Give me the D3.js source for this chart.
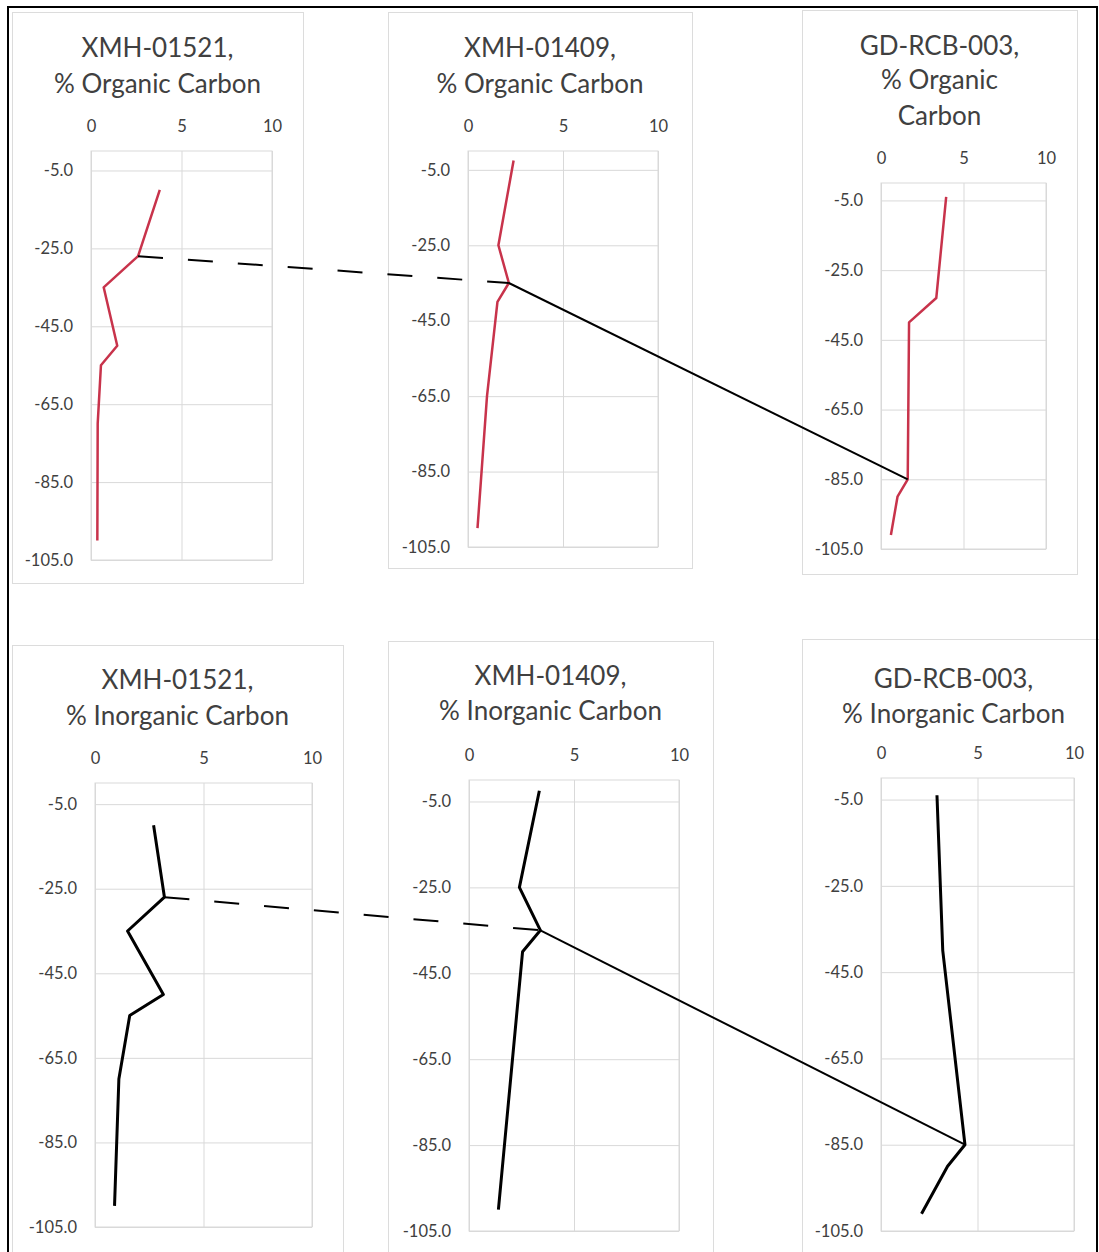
<!DOCTYPE html>
<html>
<head>
<meta charset="utf-8">
<script src="https://cdn.jsdelivr.net/npm/d3@7"></script>
<style>
  body { margin: 0; background: #fff; }
  text { font-family: Lato, "Open Sans", sans-serif; fill: #404040; }
</style>
</head>
<body>
<script>
const depth01521 = [-10, -27, -35, -50, -55, -70, -100];
const orgC01521 = [3.8, 2.6, 0.7, 1.45, 0.55, 0.37, 0.35];
const inorgC01521 = [2.7, 3.2, 1.5, 3.15, 1.6, 1.1, 0.9];

const depth01409 = [-2.5, -25, -35, -40, -65, -100];
const orgC01409 = [2.4, 1.6, 2.15, 1.55, 1.0, 0.5];
const depth01409i = [-2.5, -25, -35, -40, -100];
const inorgC01409 = [3.35, 2.4, 3.4, 2.55, 1.4];

const depthRCBo = [-4, -33, -40, -85, -90, -101];
const orgCRCB = [3.95, 3.35, 1.7, 1.62, 1.0, 0.6];
const depthRCBi = [-4, -40, -85, -90, -101];
const inorgCRCB = [2.9, 3.2, 4.35, 3.45, 2.1];

const xTicks = [0, 5, 10];
const yTicks = [-5, -25, -45, -65, -85, -105];
const xDomain = [0, 10];
const yDomain = [-105, 0];

const red = "#c8334b";

// plain hyphen for negatives, like the original
const locale = d3.formatLocale({ decimal: ".", thousands: ",", grouping: [3], currency: ["$", ""], minus: "-" });

// panel layout: outer frame, plot area, title lines and their centres
const panels = [
  { title: ["XMH-01521,", "% Organic Carbon"], ty: [47, 83], frame: [12, 12, 303, 583], plot: [91, 151, 272, 560],
    depth: depth01521, vals: orgC01521, color: red, width: 2.5 },
  { title: ["XMH-01409,", "% Organic Carbon"], ty: [47, 83], frame: [388, 12, 692, 568], plot: [468, 151, 658, 547],
    depth: depth01409, vals: orgC01409, color: red, width: 2.5 },
  { title: ["GD-RCB-003,", "% Organic", "Carbon"], ty: [45, 79, 115], frame: [802, 10, 1077, 574], plot: [881, 183, 1046, 549],
    depth: depthRCBo, vals: orgCRCB, color: red, width: 2.5 },
  { title: ["XMH-01521,", "% Inorganic Carbon"], ty: [679, 715], frame: [12, 645, 343, 1262], plot: [95, 783, 312, 1227],
    depth: depth01521, vals: inorgC01521, color: "#000", width: 3 },
  { title: ["XMH-01409,", "% Inorganic Carbon"], ty: [675, 710], frame: [388, 641, 713, 1262], plot: [469, 780, 679, 1231],
    depth: depth01409i, vals: inorgC01409, color: "#000", width: 3 },
  { title: ["GD-RCB-003,", "% Inorganic Carbon"], ty: [678, 713], frame: [802, 639, 1105, 1262], plot: [881, 778, 1074, 1231],
    depth: depthRCBi, vals: inorgCRCB, color: "#000", width: 3 }
];

// correlation lines: [fromPanel, pointIndex, toPanel, pointIndex, dashed]
const links = [
  [0, 1, 1, 2, true],
  [1, 2, 2, 3, false],
  [3, 1, 4, 2, true],
  [4, 2, 5, 2, false]
];

const svg = d3.select("body").append("svg")
    .attr("width", 1099)
    .attr("height", 1252);

svg.append("rect").attr("width", 1099).attr("height", 1252).attr("fill", "#fff");

panels.forEach(p => {
  const [px0, py0, px1, py1] = p.plot;
  const w = px1 - px0, h = py1 - py0;
  p.x = d3.scaleLinear().domain(xDomain).range([px0, px1]);
  p.y = d3.scaleLinear().domain(yDomain).range([py1, py0]);

  const g = svg.append("g");

  g.append("rect")
      .attr("x", p.frame[0] + 0.5).attr("y", p.frame[1] + 0.5)
      .attr("width", p.frame[2] - p.frame[0]).attr("height", p.frame[3] - p.frame[1])
      .attr("fill", "#fff").attr("stroke", "#dcdcdc");

  const cx = (p.frame[0] + p.frame[2]) / 2;
  p.title.forEach((t, i) => {
    g.append("text")
        .attr("x", cx).attr("y", p.ty[i] + 10)
        .attr("text-anchor", "middle")
        .attr("font-size", 26)
        .text(t);
  });

  // gridlines
  g.append("g")
      .attr("transform", `translate(0,${py0})`)
      .call(d3.axisTop(p.x).tickValues(xTicks).tickSize(-h).tickFormat(""))
      .call(a => a.select(".domain").remove())
      .call(a => a.selectAll("line").attr("stroke", "#d9d9d9"));
  g.append("g")
      .attr("transform", `translate(${px0},0)`)
      .call(d3.axisLeft(p.y).tickValues(yTicks).tickSize(-w).tickFormat(""))
      .call(a => a.select(".domain").remove())
      .call(a => a.selectAll("line").attr("stroke", "#d9d9d9"));

  g.append("rect")
      .attr("x", px0).attr("y", py0).attr("width", w).attr("height", h)
      .attr("fill", "none").attr("stroke", "#d9d9d9");

  // tick labels
  g.append("g")
      .attr("transform", `translate(0,${py0})`)
      .call(d3.axisTop(p.x).tickValues(xTicks).tickSize(0).tickPadding(19).tickFormat(locale.format("d")))
      .call(a => a.select(".domain").remove())
      .call(a => a.selectAll("text").attr("font-size", 16.5).attr("fill", "#404040").attr("font-family", null));
  g.append("g")
      .attr("transform", `translate(${px0},0)`)
      .call(d3.axisLeft(p.y).tickValues(yTicks).tickSize(0).tickPadding(18).tickFormat(locale.format(".1f")))
      .call(a => a.select(".domain").remove())
      .call(a => a.selectAll("text").attr("font-size", 16.5).attr("fill", "#404040").attr("font-family", null));

  const line = d3.line()
      .x(d => p.x(d[1]))
      .y(d => p.y(d[0]));

  g.append("path")
      .datum(d3.zip(p.depth, p.vals))
      .attr("d", line)
      .attr("fill", "none")
      .attr("stroke", p.color)
      .attr("stroke-width", p.width)
      .attr("stroke-linejoin", "round");
});

links.forEach(([a, i, b, j, dashed]) => {
  const pa = panels[a], pb = panels[b];
  svg.append("line")
      .attr("x1", pa.x(pa.vals[i])).attr("y1", pa.y(pa.depth[i]))
      .attr("x2", pb.x(pb.vals[j])).attr("y2", pb.y(pb.depth[j]))
      .attr("stroke", "#000")
      .attr("stroke-width", 2)
      .attr("stroke-dasharray", dashed ? "25,25" : null);
});

// outer border
svg.append("path")
    .attr("d", "M8,1252V7H1097V1252")
    .attr("fill", "none")
    .attr("stroke", "#000")
    .attr("stroke-width", 2);
</script>
</body>
</html>
